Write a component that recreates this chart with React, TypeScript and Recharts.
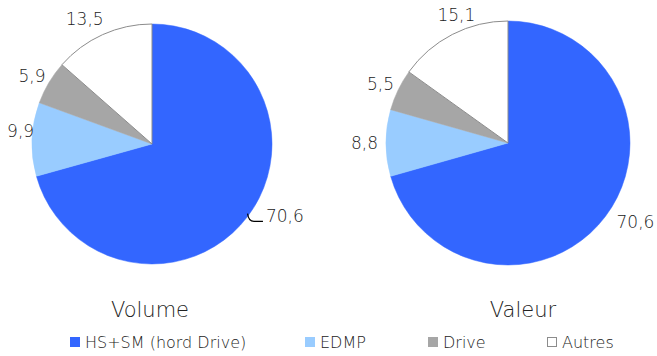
import { PieChart, Pie, Cell } from "recharts";

const categories = ["HS+SM (hord Drive)", "EDMP", "Drive", "Autres"];
const volumeValues = [70.6, 9.9, 5.9, 13.5];
const valeurValues = [70.6, 8.8, 5.5, 15.1];
const titles = ["Volume", "Valeur"];

const COLORS = ["#3366FF", "#99CCFF", "#A6A6A6", "#FFFFFF"];
const STROKES = ["#3366FF", "#99CCFF", "#A6A6A6", "#8C8C8C"];
const FONT = "'DejaVu Sans', sans-serif";
const WEIGHT = 200;
const TEXT = "#222222";
const RAD = Math.PI / 180;

// small manual label nudges (dx, dy) per slice, like the hand-placed labels in the original
const volumeNudge = [[0, 0], [8, -8], [0, 0], [-8, -4]];
const valeurNudge = [[11, -2], [-2, 0], [0, 0], [15, -8]];

const toData = (values: number[]) =>
  categories.map((name, i) => ({ name, value: values[i] }));

const volumeData = toData(volumeValues);
const valeurData = toData(valeurValues);

const fmt = (v: number) => v.toFixed(1).replace(".", ",");

function makeLabel(leaderIndex: number | null, nudge: number[][]) {
  return (props: any) => {
    const { cx, cy, outerRadius, midAngle, value, index } = props;
    const dx = Math.cos(-midAngle * RAD);
    const dy = Math.sin(-midAngle * RAD);
    const txt = fmt(value);
    if (index === leaderIndex) {
      const ex = cx + outerRadius * dx;
      const ey = cy + outerRadius * dy;
      const bx = cx + (outerRadius + 8) * dx;
      const by = cy + (outerRadius + 8) * dy;
      return (
        <g>
          <path
            d={`M${ex},${ey - 3} Q${ex + 1},${by} ${bx},${by} L${bx + 9},${by}`}
            stroke="#000"
            fill="none"
            strokeWidth={1.2}
          />
          <text
            x={bx + 12}
            y={by + 1}
            fill={TEXT}
            fontSize={17}
            fontWeight={WEIGHT}
            fontFamily={FONT}
            textAnchor="start"
          >
            {txt}
          </text>
        </g>
      );
    }
    const w = txt.length * 9;
    const h = 14;
    const [nx, ny] = nudge[index] || [0, 0];
    const x = cx + (outerRadius + 6) * dx + (dx * w) / 2 + nx;
    const y = cy + (outerRadius + 6) * dy + (dy * h) / 2 + ny;
    return (
      <text
        x={x}
        y={y}
        fill={TEXT}
        fontSize={17}
        fontWeight={WEIGHT}
        fontFamily={FONT}
        textAnchor="middle"
        dominantBaseline="central"
      >
        {txt}
      </text>
    );
  };
}

const legendSquareX = [70, 305, 428, 547];
const titleX = [150, 523];

export default function App() {
  return (
    <div
      style={{
        position: "absolute",
        left: 0,
        top: 0,
        width: 657,
        height: 356,
        background: "#fff",
      }}
    >
      <PieChart width={657} height={290} margin={{ top: 0, right: 0, bottom: 0, left: 0 }}>
        <Pie
          data={volumeData}
          dataKey="value"
          nameKey="name"
          cx={152}
          cy={144}
          outerRadius={120}
          startAngle={90}
          endAngle={-270}
          label={makeLabel(0, volumeNudge)}
          labelLine={false}
          isAnimationActive={false}
        >
          {volumeData.map((_, i) => (
            <Cell key={i} fill={COLORS[i]} stroke={STROKES[i]} strokeWidth={i === 3 ? 1 : 0.5} />
          ))}
        </Pie>
        <Pie
          data={valeurData}
          dataKey="value"
          nameKey="name"
          cx={508}
          cy={143}
          outerRadius={122}
          startAngle={90}
          endAngle={-270}
          label={makeLabel(null, valeurNudge)}
          labelLine={false}
          isAnimationActive={false}
        >
          {valeurData.map((_, i) => (
            <Cell key={i} fill={COLORS[i]} stroke={STROKES[i]} strokeWidth={i === 3 ? 1 : 0.5} />
          ))}
        </Pie>
      </PieChart>
      <svg
        width={657}
        height={66}
        style={{ position: "absolute", left: 0, top: 290 }}
      >
        {titles.map((t, i) => (
          <text
            key={t}
            x={titleX[i]}
            y={27}
            textAnchor="middle"
            fontFamily={FONT}
            fontWeight={WEIGHT}
            fontSize={21}
            fill={TEXT}
          >
            {t}
          </text>
        ))}
        {categories.map((c, i) => (
          <g key={c}>
            <rect
              x={legendSquareX[i] + (i === 3 ? 0.5 : 0)}
              y={47 + (i === 3 ? 0.5 : 0)}
              width={i === 3 ? 9 : 10}
              height={i === 3 ? 9 : 10}
              fill={COLORS[i]}
              stroke={i === 3 ? "#8C8C8C" : "none"}
            />
            <text
              x={legendSquareX[i] + 15}
              y={58}
              fontFamily={FONT}
              fontWeight={WEIGHT}
              fontSize={16}
              fill={TEXT}
            >
              {c}
            </text>
          </g>
        ))}
      </svg>
    </div>
  );
}
